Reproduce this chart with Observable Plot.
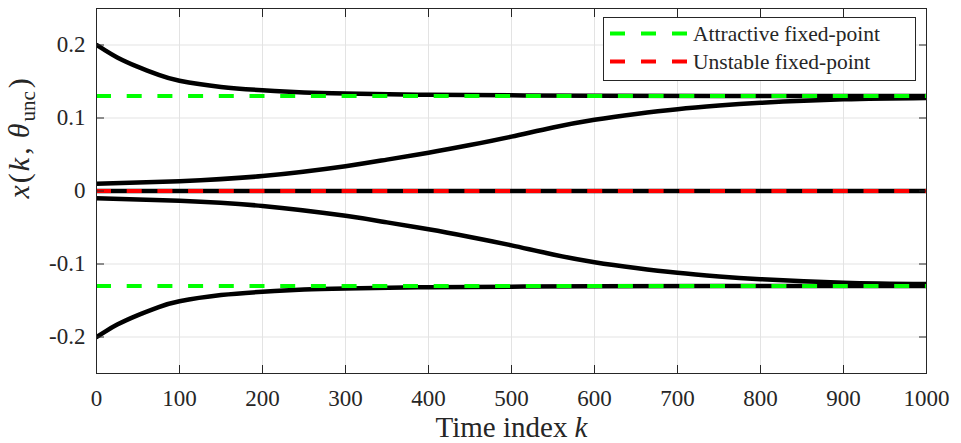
<!DOCTYPE html>
<html><head><meta charset="utf-8">
<script src="https://cdn.jsdelivr.net/npm/d3@7"></script>
<script src="https://cdn.jsdelivr.net/npm/@observablehq/plot@0.6"></script>
<style>
body{margin:0;background:#fff;}
#wrap{position:relative;width:961px;height:443px;font-family:"Liberation Serif",serif;}
#legend{position:absolute;left:0;top:0;}
</style></head><body><div id="wrap"></div>
<script>
// ---- data ----
const kDecay = [0,10,25,50,75,100,150,200,250,300,400,500,600,800,1000];
const xDecayUpper = [0.2,0.193,0.183,0.170,0.159,0.151,0.1425,0.138,0.135,0.1335,0.1318,0.131,0.1305,0.1301,0.130];
const xDecayLower = [-0.2,-0.193,-0.183,-0.170,-0.159,-0.151,-0.1425,-0.138,-0.135,-0.1335,-0.1318,-0.131,-0.1305,-0.1301,-0.130];
const kRise = [0,100,200,300,350,400,450,500,550,600,650,700,750,800,900,1000];
const xRiseUpper = [0.010,0.0135,0.0205,0.034,0.043,0.0525,0.063,0.0745,0.087,0.0975,0.1055,0.112,0.117,0.1208,0.1256,0.1275];
const xRiseLower = [-0.010,-0.0135,-0.0205,-0.034,-0.043,-0.0525,-0.063,-0.0745,-0.087,-0.0975,-0.1055,-0.112,-0.117,-0.1208,-0.1256,-0.1275];
const kZero = [0,1000];
const xZero = [0,0];
const attractiveFP = [0.13,-0.13];
const unstableFP = [0];
const xTicks = [0,100,200,300,400,500,600,700,800,900,1000];
const xTickLabels = ["0","100","200","300","400","500","600","700","800","900","1000"];
const yTicks = [0.2,0.1,0,-0.1,-0.2];
const yTickLabels = ["0.2","0.1","0","-0.1","-0.2"];
const legendLabels = ["Attractive fixed-point","Unstable fixed-point"];
const legendColors = ["#00ff00","#ff0000"];
const xLabel = "Time index k";
const yLabel = "x(k, θunc)";

const traj = (ks, xs, id) => ks.map((k,i)=>({k, v: xs[i], id}));
const trajectories = [
  ...traj(kDecay, xDecayUpper, "a"),
  ...traj(kDecay, xDecayLower, "b"),
  ...traj(kRise, xRiseUpper, "c"),
  ...traj(kRise, xRiseLower, "d"),
  ...traj(kZero, xZero, "e")
];

const dash = "15,15.7";
const ink = "#262626";
const serif = '"Liberation Serif", serif';
const plot = Plot.plot({
  width: 961, height: 443,
  marginLeft: 96, marginRight: 35, marginTop: 8, marginBottom: 70,
  x: {domain: [0,1000]},
  y: {domain: [-0.25,0.25]},
  style: {fontFamily: serif, fontSize: "23px", background: "#fff", color: ink},
  marks: [
    Plot.gridX(xTicks, {stroke: "#e3e3e3", strokeOpacity: 1}),
    Plot.gridY(yTicks, {stroke: "#e3e3e3", strokeOpacity: 1}),
    Plot.line(trajectories, {x: "k", y: "v", z: "id", stroke: "#000", strokeWidth: 4.5, curve: "natural", clip: true}),
    Plot.ruleY(attractiveFP, {stroke: legendColors[0], strokeWidth: 4, strokeDasharray: dash, clip: true}),
    Plot.ruleY(unstableFP, {stroke: legendColors[1], strokeWidth: 4, strokeDasharray: dash, clip: true}),
    Plot.frame({stroke: ink}),
    Plot.axisX(xTicks, {anchor: "bottom", tickSize: 0, tickPadding: 16, label: null, fontSize: 23, fill: ink,
      tickFormat: d => xTickLabels[xTicks.indexOf(d)]}),
    Plot.axisX(xTicks, {anchor: "bottom", tickSize: -8, fill: "none", label: null, stroke: ink}),
    Plot.axisX(xTicks, {anchor: "top", tickSize: -8, fill: "none", label: null, stroke: ink}),
    Plot.axisY(yTicks, {anchor: "left", tickSize: 0, tickPadding: 11, label: null, fontSize: 23, fill: ink,
      tickFormat: d => yTickLabels[yTicks.indexOf(d)]}),
    Plot.axisY(yTicks, {anchor: "left", tickSize: -8, fill: "none", label: null, stroke: ink}),
    Plot.axisY(yTicks, {anchor: "right", tickSize: -8, fill: "none", label: null, stroke: ink}),
    Plot.text([xLabel], {frameAnchor: "bottom", dy: 54, fontSize: 29, fill: ink, lineAnchor: "middle"}),
    Plot.text([yLabel], {frameAnchor: "left", dx: -77.5, dy: 7.5, rotate: -90, fontSize: 30, fill: ink, lineAnchor: "middle"})
  ]
});

// math styling of labels (italic variables, subscript)
plot.querySelectorAll("text").forEach(t => {
  if (t.textContent === xLabel) {
    t.innerHTML = 'Time index <tspan font-style="italic">k</tspan>';
  } else if (t.textContent === yLabel) {
    t.innerHTML = '<tspan font-style="italic">x</tspan><tspan dx="2">(</tspan><tspan font-style="italic" dx="2">k</tspan><tspan dx="3">,</tspan><tspan font-style="italic" dx="9">θ</tspan><tspan font-size="21" dx="2" dy="6">unc</tspan><tspan dx="3" dy="-6">)</tspan>';
  }
});

const wrap = document.getElementById("wrap");
wrap.appendChild(plot);

// legend inside the axes (top-right)
const ns = "http://www.w3.org/2000/svg";
const leg = document.createElementNS(ns, "svg");
leg.setAttribute("id","legend");
leg.setAttribute("width", 961);
leg.setAttribute("height", 100);
leg.style.pointerEvents = "none";
const box = document.createElementNS(ns, "rect");
box.setAttribute("x", 603.5); box.setAttribute("y", 17.5);
box.setAttribute("width", 312); box.setAttribute("height", 63);
box.setAttribute("fill", "#fff"); box.setAttribute("stroke", ink); box.setAttribute("stroke-width", 1);
leg.appendChild(box);
legendLabels.forEach((lab, i) => {
  const cy = 33.5 + i * 28;
  const ln = document.createElementNS(ns, "line");
  ln.setAttribute("x1", 610); ln.setAttribute("x2", 687);
  ln.setAttribute("y1", cy); ln.setAttribute("y2", cy);
  ln.setAttribute("stroke", legendColors[i]); ln.setAttribute("stroke-width", 4);
  ln.setAttribute("stroke-dasharray", "15,16");
  leg.appendChild(ln);
  const tx = document.createElementNS(ns, "text");
  tx.setAttribute("x", 693); tx.setAttribute("y", cy + 7);
  tx.setAttribute("font-family", serif);
  tx.setAttribute("font-size", 21.5);
  tx.setAttribute("fill", ink);
  tx.textContent = lab;
  leg.appendChild(tx);
});
wrap.appendChild(leg);
</script>
</body></html>
